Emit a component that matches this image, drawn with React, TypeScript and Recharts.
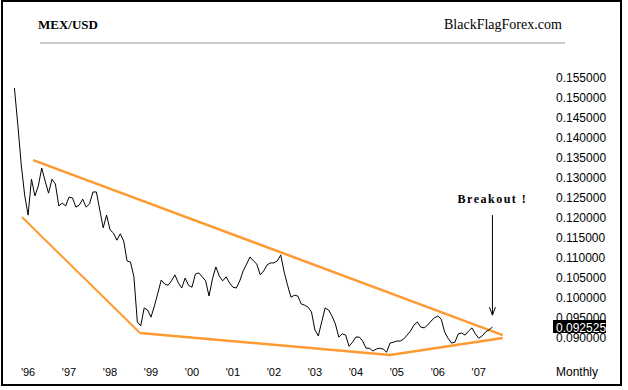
import React from 'react';
import { LineChart, Line, XAxis, YAxis, ReferenceLine } from 'recharts';

// monthly closes, MXN in USD; first point is Sep '95 (month -4, Jan '96 = 0)
const startMonth = -4;
const mexUsd = [
  0.1525, 0.1432, 0.1332, 0.1256,
  0.1206, 0.1296, 0.1254, 0.1279, 0.1324, 0.1291, 0.1261, 0.1296, 0.1284, 0.1229, 0.1236, 0.1229,
  0.1251, 0.1249, 0.1226, 0.1231, 0.1246, 0.1226, 0.1234, 0.1264, 0.1264, 0.1219, 0.1174, 0.1206,
  0.1169, 0.1161, 0.1143, 0.1159, 0.1141, 0.1091, 0.1088, 0.1051, 0.0938, 0.0928, 0.0973, 0.0968,
  0.0950, 0.0978, 0.1010, 0.1043, 0.1033, 0.1030, 0.1041, 0.1056, 0.1036, 0.1023, 0.1048, 0.1030,
  0.1025, 0.1058, 0.1061, 0.1051, 0.1041, 0.1003, 0.1046, 0.1076, 0.1053, 0.1041, 0.1051, 0.1036,
  0.1025, 0.1023, 0.1041, 0.1066, 0.1083, 0.1101, 0.1091, 0.1083, 0.1056, 0.1066, 0.1081, 0.1086,
  0.1086, 0.1091, 0.1106, 0.1063, 0.1030, 0.1000, 0.1005, 0.1003, 0.0983, 0.0980, 0.0975, 0.0963,
  0.0918, 0.0903, 0.0938, 0.0973, 0.0968, 0.0953, 0.0933, 0.0900, 0.0908, 0.0905, 0.0877, 0.0887,
  0.0900, 0.0900, 0.0890, 0.0872, 0.0872, 0.0865, 0.0870, 0.0872, 0.0870, 0.0862, 0.0885, 0.0887,
  0.0890, 0.0890, 0.0895, 0.0905, 0.0915, 0.0930, 0.0938, 0.0925, 0.0923, 0.0930, 0.0940, 0.0948,
  0.0953, 0.0945, 0.0913, 0.0897, 0.0885, 0.0887, 0.0908, 0.0910, 0.0905, 0.0915, 0.0923, 0.0908,
  0.0897, 0.0903, 0.0913, 0.0918, 0.092525,
];
const lastPrice = 0.092525;

const yearTicks = [0, 12, 24, 36, 48, 60, 72, 84, 96, 108, 120, 132];
const yearLabels = ["'96", "'97", "'98", "'99", "'00", "'01", "'02", "'03", "'04", "'05", "'06", "'07"];
const priceTicks = [0.155, 0.15, 0.145, 0.14, 0.135, 0.13, 0.125, 0.12, 0.115, 0.11, 0.105, 0.1, 0.095, 0.09];

// trend lines (month, price)
const upperTrend = [{ x: 1.5, y: 0.1344 }, { x: 139, y: 0.0905 }];
const crashTrend = [{ x: -1.8, y: 0.1201 }, { x: 32.8, y: 0.091 }];
const supportLeft = [{ x: 32.8, y: 0.091 }, { x: 106, y: 0.0855 }];
const supportRight = [{ x: 106, y: 0.0855 }, { x: 139, y: 0.08975 }];
const breakoutArrow = [{ x: 136, y: 0.1206 }, { x: 136, y: 0.0955 }];

const data = mexUsd.map((v, i) => ({ m: startMonth + i, v }));

const ORANGE = '#FF9A33';
const SANS = '"Liberation Sans", Arial, sans-serif';
const SERIF = '"Liberation Serif", "Times New Roman", serif';

const PriceTick = (props: any) => {
  const { x, y, payload } = props;
  const val = payload.value;
  if (val === lastPrice) {
    return (
      <g>
        <rect x={x - 3} y={y - 7} width={53} height={13} fill="#000" />
        <text x={x} y={y} dy={4.5} fontSize={12} fontFamily={SANS} fill="#fff">{val.toFixed(6)}</text>
      </g>
    );
  }
  return (
    <text x={x} y={y} dy={4.5} fontSize={12} fontFamily={SANS} fill="#000">{val.toFixed(6)}</text>
  );
};

const Arrow = (p: any) => {
  const { x1, y1, x2, y2 } = p;
  return (
    <g>
      <line x1={x1} y1={y1} x2={x2} y2={y2} stroke="#000" strokeWidth={1} />
      <polyline points={`${x2 - 3},${y2 - 8} ${x2},${y2} ${x2 + 3},${y2 - 8}`} fill="none" stroke="#000" strokeWidth={1} />
    </g>
  );
};

export default function App() {
  return (
    <div style={{ position: 'absolute', left: 0, top: 0, width: 628, height: 390, background: '#fff' }}>
      <div style={{ position: 'absolute', left: 1, top: 0, width: 621, height: 386, border: '2px solid #000', boxSizing: 'border-box' }} />
      <div style={{ position: 'absolute', left: 38, top: 18, fontFamily: SERIF, fontWeight: 'bold', fontSize: 13, lineHeight: '14px' }}>MEX/USD</div>
      <div style={{ position: 'absolute', left: 444, top: 17, fontFamily: SERIF, fontSize: 14, lineHeight: '15px' }}>BlackFlagForex.com</div>
      <div style={{ position: 'absolute', left: 40, top: 42, width: 525, height: 2, background: '#cccccc' }} />
      <div style={{ position: 'absolute', left: 556, top: 366, fontFamily: SANS, fontSize: 12, lineHeight: '13px' }}>Monthly</div>
      <div style={{ position: 'absolute', left: 0, top: 0 }}>
        <LineChart width={628} height={390} data={data} margin={{ top: 58, right: 18, bottom: 6, left: 11 }}>
          <XAxis
            dataKey="m"
            type="number"
            domain={[-5, 147]}
            ticks={yearTicks}
            interval={0}
            tickFormatter={(v: number) => yearLabels[yearTicks.indexOf(v)]}
            axisLine={false}
            tickLine={false}
            tickSize={0}
            tickMargin={9}
            height={25}
            tick={{ fill: '#000', fontSize: 11, fontFamily: SANS }}
          />
          <YAxis
            orientation="right"
            type="number"
            domain={[0.0845, 0.16]}
            ticks={[...priceTicks, lastPrice]}
            interval={0}
            axisLine={false}
            tickLine={false}
            tickSize={0}
            tickMargin={26}
            width={80}
            tick={<PriceTick />}
          />
          <ReferenceLine segment={upperTrend} stroke={ORANGE} strokeWidth={2.5} />
          <ReferenceLine segment={crashTrend} stroke={ORANGE} strokeWidth={2} />
          <ReferenceLine segment={supportLeft} stroke={ORANGE} strokeWidth={2.5} />
          <ReferenceLine segment={supportRight} stroke={ORANGE} strokeWidth={2.5} />
          <Line type="linear" dataKey="v" stroke="#000" strokeWidth={1} dot={false} isAnimationActive={false} />
          <ReferenceLine
            segment={breakoutArrow}
            stroke="#000"
            shape={<Arrow />}
            label={{ value: 'Breakout !', position: 'top', offset: 12, fill: '#000', fontSize: 12, fontWeight: 'bold', fontFamily: SERIF, letterSpacing: 1.5 }}
          />
        </LineChart>
      </div>
    </div>
  );
}
